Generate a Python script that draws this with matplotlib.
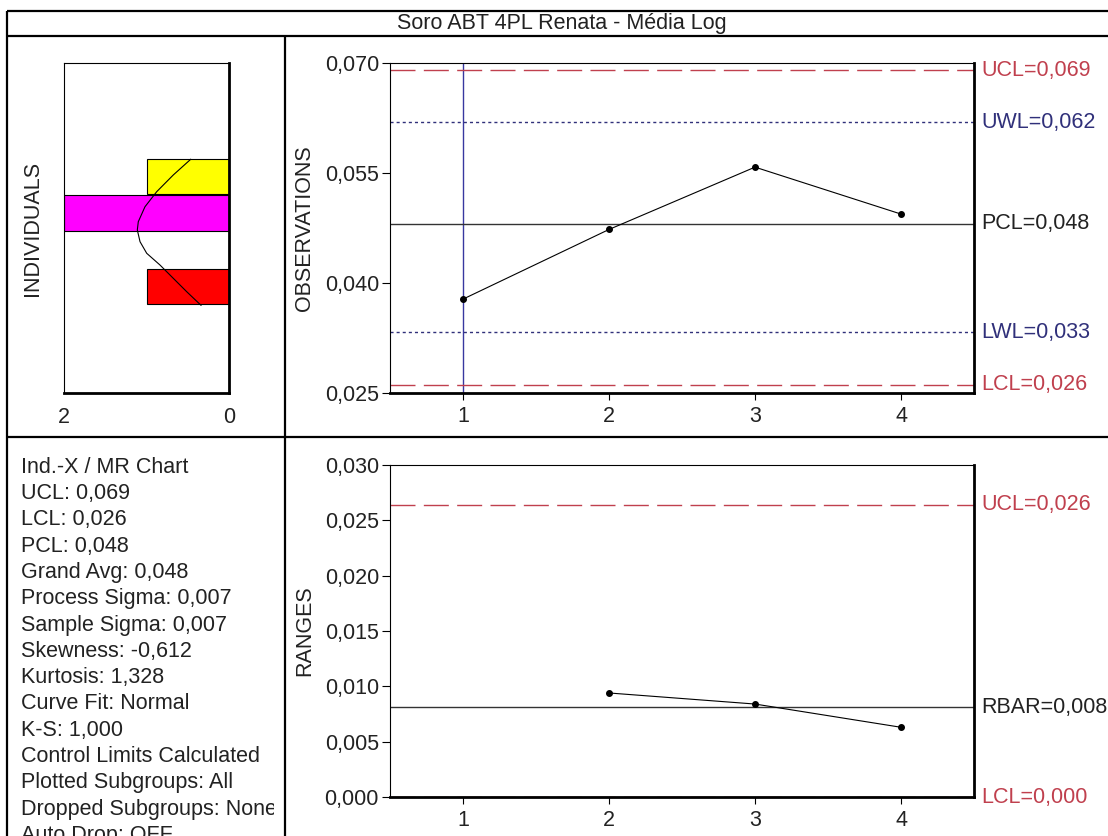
"""
Ind.-X / MR control chart with side histogram, redrawn from the screenshot
"""

import matplotlib.pyplot as plt
from matplotlib.ticker import FixedLocator

plt.rcParams['font.family'] = ['Liberation Sans', 'DejaVu Sans']
plt.rcParams['lines.scale_dashes'] = False

# data
samples = [1, 2, 3, 4]
observations = [0.0378, 0.0473, 0.0558, 0.0494]
range_samples = [2, 3, 4]
moving_ranges = [0.0094, 0.0084, 0.0063]

obs_limits = {'UCL': 0.0690, 'UWL': 0.0619, 'PCL': 0.0481,
              'LWL': 0.0333, 'LCL': 0.0261}
rng_limits = {'UCL': 0.0264, 'RBAR': 0.0081, 'LCL': 0.0}

obs_ticks = [0.025, 0.040, 0.055, 0.070]
rng_ticks = [0.000, 0.005, 0.010, 0.015, 0.020, 0.025, 0.030]

# histogram (horizontal, shares the observation scale)
hist_lo = [0.0371, 0.0471, 0.0522]
hist_hi = [0.0419, 0.0520, 0.0569]
hist_count = [1, 2, 1]
hist_colors = ['#ff0000', '#ff00ff', '#ffff00']

# fitted normal curve as traced on the screenshot
curve_y = [0.05687, 0.05473, 0.05245, 0.05040, 0.04836, 0.04723,
           0.04563, 0.04405, 0.04245, 0.04064, 0.03881, 0.03696]
curve_x = [0.468, 0.679, 0.880, 1.022, 1.103, 1.115,
           1.082, 1.001, 0.840, 0.679, 0.516, 0.343]

stats_lines = ['Ind.-X / MR Chart', 'UCL: 0,069', 'LCL: 0,026', 'PCL: 0,048',
               'Grand Avg: 0,048', 'Process Sigma: 0,007',
               'Sample Sigma: 0,007', 'Skewness: -0,612', 'Kurtosis: 1,328',
               'Curve Fit: Normal', 'K-S: 1,000', 'Control Limits Calculated',
               'Plotted Subgroups: All', 'Dropped Subgroups: None',
               'Auto Drop: OFF']

title = 'Soro ABT 4PL Renata - Média Log'

W, H = 1108, 836
FS = 15.5
TXT = '#222222'
RED = '#c0404e'
NAVY = '#30307a'


def px_axes(fig, x0, y0, x1, y1):
    # axes from pixel box (top-left origin)
    return fig.add_axes([x0 / W, (H - y1) / H, (x1 - x0) / W, (y1 - y0) / H])


def fmt(v):
    return ('%.3f' % v).replace('.', ',')


def style_box(ax):
    ax.spines['left'].set_linewidth(0.8)
    ax.spines['top'].set_linewidth(0.8)
    ax.spines['right'].set_linewidth(2.0)
    ax.spines['bottom'].set_linewidth(2.0)
    ax.tick_params(labelsize=FS, labelcolor=TXT, width=0.8)


fig = plt.figure(figsize=(W / 100, H / 100), dpi=100)

# frame
bg = fig.add_axes([0, 0, 1, 1])
bg.set_xlim(0, W)
bg.set_ylim(H, 0)
bg.axis('off')
kw = dict(color='black', lw=1.6, solid_capstyle='butt')
bg.plot([7, W], [11, 11], **kw)
bg.plot([7, W], [36, 36], **kw)
bg.plot([7, 7], [11, H], **kw)
bg.plot([285, 285], [36, H], **kw)
bg.plot([7, W], [437, 437], **kw)
bg.text(562, 24, title, ha='center', va='center', fontsize=FS, color=TXT)

# stats text panel (clipped like the original)
tx = px_axes(fig, 8, 439, 274, H)
tx.set_xlim(8, 274)
tx.set_ylim(H, 439)
tx.axis('off')
for i, line in enumerate(stats_lines):
    tx.text(21, 472.7 + i * 26.3, line, fontsize=FS, color=TXT,
            va='baseline', ha='left', clip_on=True)

# histogram
axh = px_axes(fig, 64.3, 63, 229.3, 393)
centers = [(lo + hi) / 2 for lo, hi in zip(hist_lo, hist_hi)]
heights = [hi - lo for lo, hi in zip(hist_lo, hist_hi)]
axh.barh(centers, hist_count, height=heights, left=0, color=hist_colors,
         edgecolor='black', linewidth=0.8, zorder=2)
axh.plot(curve_x, curve_y, color='black', lw=0.8, zorder=3)
axh.set_xlim(2, 0)
axh.set_ylim(0.025, 0.070)
axh.set_yticks([])
axh.xaxis.set_major_locator(FixedLocator([2, 0]))
axh.set_xticklabels(['2', '0'])
style_box(axh)
axh.tick_params(axis='x', length=0, pad=10)
axh.set_ylabel('INDIVIDUALS', fontsize=FS, color=TXT)
axh.yaxis.set_label_coords(-0.127, 0.5)

# observations chart
ax1 = px_axes(fig, 390, 63, 974, 393)
ax1.axvline(1, color='#3838a0', lw=1.0, zorder=1)
ax1.plot(samples, observations, color='black', lw=0.8, marker='o', ms=4,
         zorder=4)
for name, val in obs_limits.items():
    if name in ('UCL', 'LCL'):
        col, ls = RED, (0, (18, 6))
    elif name in ('UWL', 'LWL'):
        col, ls = NAVY, (0, (2.2, 2.2))
    else:
        col, ls = 'black', '-'
    ax1.axhline(val, color=col if name != 'PCL' else '#333333', lw=1.0,
                linestyle=ls, zorder=2)
    ax1.text(1.012, val, '%s=%s' % (name, fmt(val)), color=col if col != 'black' else TXT,
             fontsize=FS, va='center', ha='left',
             transform=ax1.get_yaxis_transform(), clip_on=False)
ax1.set_xlim(0.5, 4.5)
ax1.set_ylim(0.025, 0.070)
ax1.set_xticks(samples)
ax1.set_yticks(obs_ticks)
ax1.set_yticklabels([fmt(v) for v in obs_ticks])
style_box(ax1)
ax1.tick_params(axis='y', length=6, pad=2)
ax1.tick_params(axis='x', length=5, pad=4)
ax1.set_ylabel('OBSERVATIONS', fontsize=FS, color=TXT)
ax1.yaxis.set_label_coords(-0.1284, 0.5)

# moving range chart
ax2 = px_axes(fig, 390, 465, 974, 797)
ax2.plot(range_samples, moving_ranges, color='black', lw=0.8, marker='o',
         ms=4, zorder=4)
for name, val in rng_limits.items():
    if name == 'RBAR':
        col, ls = 'black', '-'
    else:
        col, ls = RED, (0, (18, 6))
    ax2.axhline(val, color=col if col != 'black' else '#333333', lw=1.0,
                linestyle=ls, zorder=2)
    ax2.text(1.012, val, '%s=%s' % (name, fmt(val)), color=col if col != 'black' else TXT,
             fontsize=FS, va='center', ha='left',
             transform=ax2.get_yaxis_transform(), clip_on=False)
ax2.set_xlim(0.5, 4.5)
ax2.set_ylim(0.0, 0.030)
ax2.set_xticks(samples)
ax2.set_yticks(rng_ticks)
ax2.set_yticklabels([fmt(v) for v in rng_ticks])
style_box(ax2)
ax2.tick_params(axis='y', length=6, pad=2)
ax2.tick_params(axis='x', length=5, pad=4)
ax2.set_ylabel('RANGES', fontsize=FS, color=TXT)
ax2.yaxis.set_label_coords(-0.1284, 0.5)

fig.savefig('out.png', dpi=100)
